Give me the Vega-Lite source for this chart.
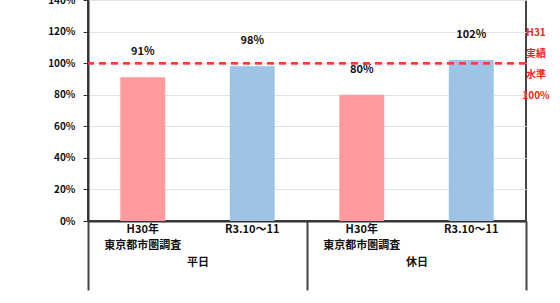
{
  "$schema": "https://vega.github.io/schema/vega-lite/v6.json",
  "autosize": "none",
  "padding": {"left": 88, "top": 0, "right": 34, "bottom": 82},
  "width": 438,
  "height": 221,
  "background": "white",
  "config": {
    "font": "Noto Sans CJK JP",
    "view": {"stroke": "#444", "strokeWidth": 2},
    "axisY": {
      "labelOverlap": false, "labelBound": false, "title": null,
      "values": [0, 20, 40, 60, 80, 100, 120, 140],
      "labelExpr": "datum.value + '%'", "grid": true, "gridColor": "#e2e2e2",
      "domainColor": "#333", "domainWidth": 2, "tickColor": "#333", "tickSize": 5,
      "labelFontSize": 10, "labelFontWeight": "bold", "labelColor": "#111", "labelPadding": 8
    }
  },
  "datasets": {
    "bars": [
      {"group": "平日", "cat": "A", "label": "H30年\n東京都市圏調査", "value": 91, "vlabel": "91%"},
      {"group": "平日", "cat": "B", "label": "R3.10〜11", "value": 98, "vlabel": "98%"},
      {"group": "休日", "cat": "A", "label": "H30年\n東京都市圏調査", "value": 80, "vlabel": "80%"},
      {"group": "休日", "cat": "B", "label": "R3.10〜11", "value": 102, "vlabel": "102%"}
    ],
    "note": [
      {"group": "休日", "note": "H31\n実績\n水準\n100%"}
    ]
  },
  "data": {"name": "bars"},
  "layer": [
    {
      "mark": {"type": "bar"},
      "encoding": {
        "x": {
          "field": "group", "type": "nominal", "sort": ["平日", "休日"],
          "scale": {"paddingInner": 0, "paddingOuter": 0},
          "axis": {
            "title": null, "labelAngle": 0, "domainColor": "#333", "domainWidth": 2,
            "tickBand": "extent", "tickSize": 69, "tickColor": "#444", "tickWidth": 2,
            "labelPadding": -34, "labelFontSize": 11, "labelFontWeight": "bold", "labelColor": "#111"
          }
        },
        "xOffset": {
          "field": "cat", "type": "nominal",
          "scale": {"paddingInner": 0.59, "paddingOuter": 0.295}
        },
        "y": {
          "field": "value", "type": "quantitative",
          "scale": {"domain": [0, 140], "nice": false},
          "axis": {"labelOverlap": false, "tickCount": 8}
        },
        "color": {
          "field": "cat", "type": "nominal",
          "scale": {"domain": ["A", "B"], "range": ["#FF9A9E", "#9DC3E6"]},
          "legend": null
        }
      }
    },
    {
      "mark": {"type": "text", "dy": -25, "fontSize": 11, "fontWeight": "bold", "color": "#111", "baseline": "middle"},
      "encoding": {
        "x": {"field": "group", "type": "nominal", "sort": ["平日", "休日"]},
        "xOffset": {"field": "cat", "type": "nominal"},
        "y": {"field": "value", "type": "quantitative", "axis": {"labelOverlap": false, "tickCount": 8}},
        "text": {"field": "vlabel"}
      }
    },
    {
      "mark": {"type": "text", "baseline": "top", "fontSize": 11, "fontWeight": "bold", "color": "#111", "lineBreak": "\n", "lineHeight": 16},
      "encoding": {
        "x": {"field": "group", "type": "nominal", "sort": ["平日", "休日"]},
        "xOffset": {"field": "cat", "type": "nominal"},
        "y": {"datum": -2, "type": "quantitative", "axis": {"labelOverlap": false, "tickCount": 8}},
        "text": {"field": "label"}
      }
    },
    {
      "mark": {"type": "rule", "color": "#FF3B3B", "strokeWidth": 2, "strokeDash": [7, 5]},
      "encoding": {"y": {"datum": 100, "type": "quantitative", "axis": {"labelOverlap": false, "tickCount": 8}}}
    },
    {
      "data": {"name": "note"},
      "mark": {"type": "text", "dx": 10, "dy": -30, "baseline": "middle", "align": "center", "fontSize": 10, "fontWeight": "bold", "color": "#FF2020", "lineBreak": "\n", "lineHeight": 21},
      "encoding": {
        "x": {"field": "group", "type": "nominal", "sort": ["平日", "休日"], "bandPosition": 1},
        "y": {"datum": 100, "type": "quantitative", "axis": {"labelOverlap": false, "tickCount": 8}},
        "text": {"field": "note"}
      }
    }
  ]
}
